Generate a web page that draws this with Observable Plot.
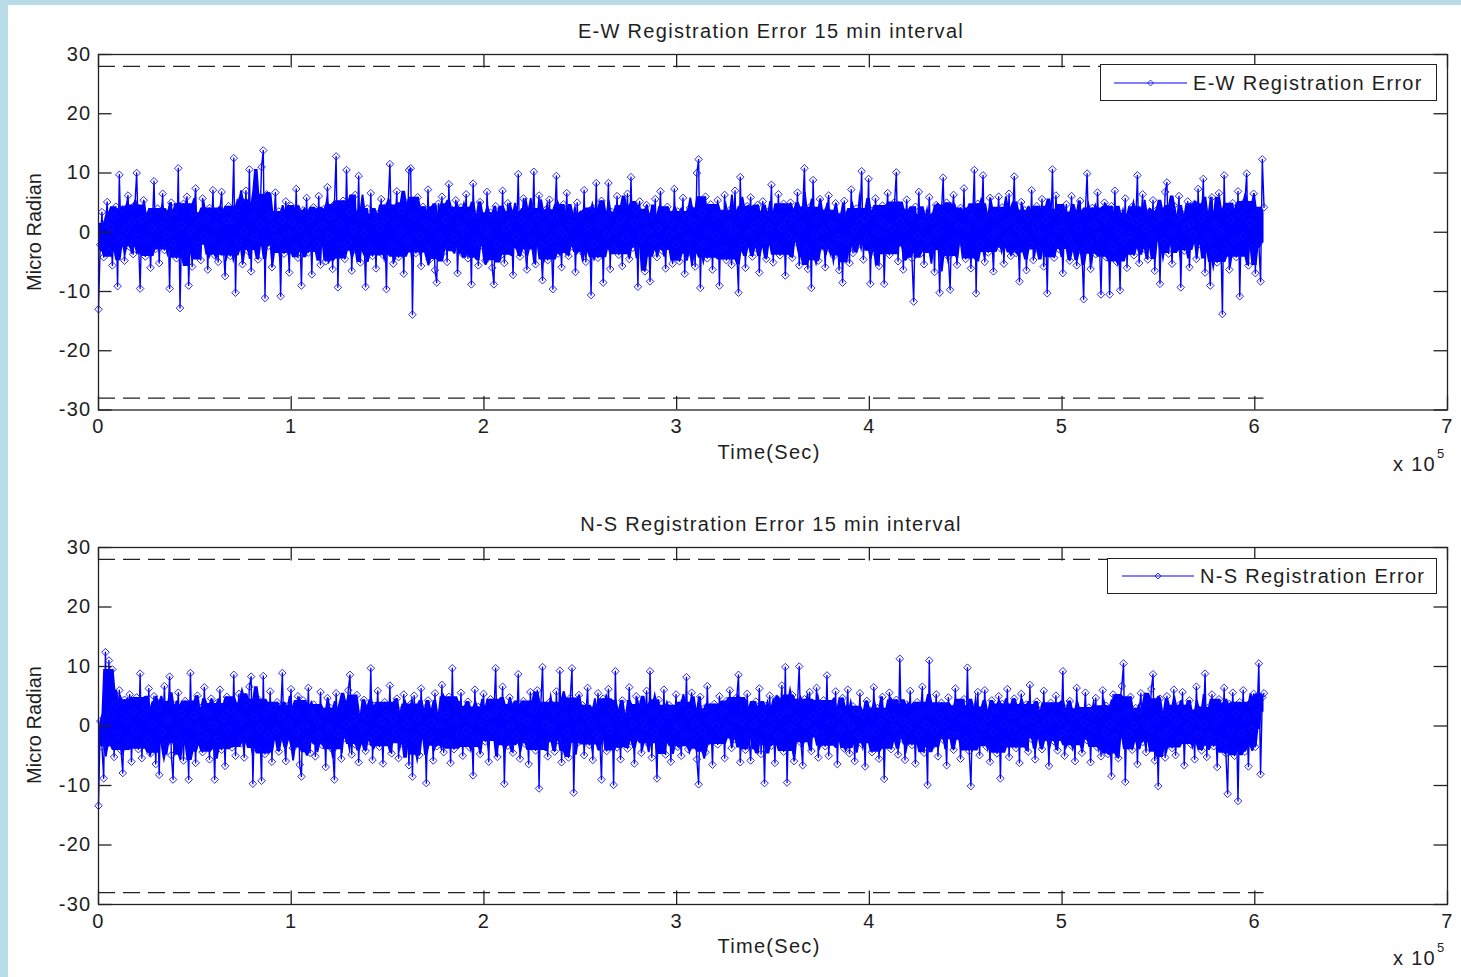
<!DOCTYPE html>
<html><head><meta charset="utf-8">
<script src="https://cdn.jsdelivr.net/npm/d3@7"></script>
<script src="https://cdn.jsdelivr.net/npm/@observablehq/plot@0.6"></script>
<style>
html,body{margin:0;padding:0;}
body{background:#b8dce7;width:1461px;height:977px;overflow:hidden;position:relative;font-family:'Liberation Sans',Arial,sans-serif;color:#1e1e1e;}
#sheet{position:absolute;left:8px;top:5px;right:0;bottom:0;background:#fff;}
.panel{position:absolute;left:0;width:1461px;}
.lbl{position:absolute;transform:translate(-50%,-50%);white-space:nowrap;font-size:20px;letter-spacing:1.3px;line-height:1;}
.lft{position:absolute;transform:translate(0,-50%);white-space:nowrap;font-size:20px;letter-spacing:1.3px;line-height:1;}
.ylab{position:absolute;transform:translate(-50%,-50%) rotate(-90deg);white-space:nowrap;font-size:20px;line-height:1;}
.legend{position:absolute;background:#fff;border:1.3px solid #222;box-sizing:border-box;}
.swatch{position:absolute;overflow:visible;}
</style></head><body>
<div id="sheet"></div>
<div id="root"></div>
<script>
// ---- data ----
const intervalSec = 900; // 15 min sampling
const limitValue = 28;   // dashed limit lines at +/-28
const xTicks = [0, 100000, 200000, 300000, 400000, 500000, 600000, 700000];
const xTickLabels = ["0", "1", "2", "3", "4", "5", "6", "7"];
const yTicks = [-30, -20, -10, 0, 10, 20, 30];
const yTickLabels = ["-30", "-20", "-10", "0", "10", "20", "30"];
const titles = ["E-W Registration Error 15 min interval", "N-S Registration Error 15 min interval"];
const seriesNames = ["E-W Registration Error", "N-S Registration Error"];
const xLabel = "Time(Sec)";
const yLabel = "Micro Radian";

const ewError = [
-13,-2.1,3.4,-4.2,1.5,5.1,-3.3,0.8,-5.6,2.7,4.3,-9.1,9.7,-1.2,3.9,-4.8,0.4,6.2,-2.5,1.8,
-3.7,4.6,10.0,-0.9,-9.5,2.2,5.4,-4.1,-1.6,3.1,-6.0,0.7,8.6,-2.8,4.0,-5.2,1.3,6.5,-3.0,-0.4,
2.9,-9.5,5.0,-1.9,3.6,-4.4,10.8,-12.8,1.1,4.8,-3.5,6.0,-9.0,0.3,-5.8,3.3,7.4,-2.2,1.6,-4.7,
5.7,-0.6,2.4,-6.3,4.1,-1.4,7.1,-3.9,0.9,-5.0,3.8,6.8,-2.6,-7.4,1.9,4.4,-4.0,2.0,12.5,-10.2,
3.2,-1.7,5.5,-5.4,0.2,7.0,-3.1,10.6,-6.6,2.5,-0.8,4.9,-4.6,1.4,11.0,13.8,-11.1,6.4,-2.3,3.0,
-5.9,1.0,6.7,-1.1,3.5,-10.8,2.1,-3.6,5.2,-0.3,-6.8,4.5,1.7,-2.9,7.3,-4.3,0.6,-9.0,3.7,-1.5,
5.8,-3.4,2.3,-7.1,4.2,0.1,-2.0,6.1,-5.5,1.2,3.9,-4.9,7.6,-0.7,2.6,-6.2,4.7,12.8,-9.3,1.5,
-2.4,5.3,-4.5,10.5,-1.8,3.4,-6.5,0.5,6.3,-3.2,9.5,-5.1,2.8,-0.2,-9.2,4.0,-2.7,6.6,-4.0,1.9,
-6.1,3.1,0.8,5.6,-3.8,2.2,-9.6,4.6,11.5,-2.1,-5.3,1.4,6.9,-4.2,0.0,3.6,-7.0,5.0,-1.3,10.5,
10.8,-13.9,2.7,-3.5,5.9,-0.5,-5.7,4.3,1.6,-2.8,7.2,-4.6,0.9,3.2,-6.4,-8.5,4.8,-1.0,6.0,-3.3,
2.0,-5.0,8.1,-2.5,3.7,-0.9,5.4,-6.9,1.3,4.2,-3.7,0.4,6.4,-4.4,2.9,-8.8,8.2,-1.6,3.0,-5.6,
5.1,-2.2,1.0,-4.8,6.8,-0.1,3.3,-6.0,-8.8,4.4,-1.9,2.5,-3.9,7.0,-5.2,0.7,4.9,-2.7,1.8,-7.2,
3.5,-0.8,9.8,-4.1,2.1,5.7,-3.0,-6.3,1.1,4.0,-1.4,10.2,-5.4,2.6,6.2,-2.3,-8.1,0.6,3.8,-4.7,
5.5,-1.2,-9.6,2.4,9.5,-3.6,0.3,-5.9,4.7,-0.6,6.6,-4.0,1.5,-2.4,3.2,-6.7,5.0,-1.7,2.8,-3.4,
7.1,-5.0,0.9,3.6,-10.6,4.1,-2.0,8.3,-4.3,1.2,5.3,-8.5,2.2,-0.4,8.3,-6.2,3.4,-2.9,0.5,6.1,
-3.8,2.0,-5.7,4.5,-1.0,6.5,-4.5,9.3,-2.6,1.7,3.9,-9.2,5.2,-0.9,2.3,-6.6,4.6,0.2,-8.3,3.0,
-1.5,5.6,-4.2,0.8,6.9,-3.1,2.7,-6.1,4.3,-0.3,1.9,-5.3,7.3,-2.1,3.5,-4.9,0.6,5.8,-7.0,2.4,
-1.1,4.1,-3.7,1.6,-5.8,10.0,12.3,-9.4,3.3,-2.0,6.0,-4.4,0.1,4.7,-6.3,2.6,-0.7,5.4,-9.0,3.1,
-2.8,6.3,-4.7,1.4,3.7,-5.5,0.4,7.0,-3.3,-10.2,9.3,-1.8,2.9,-6.0,4.4,-0.2,5.9,-4.1,1.1,-2.6,
4.6,-6.8,2.0,5.2,-1.3,-4.5,3.4,0.9,8.0,-5.1,2.5,-2.2,6.4,-3.9,0.7,4.8,-7.3,1.8,-0.6,5.0,
-4.3,2.6,-1.6,6.7,-5.6,1.0,3.9,10.8,-3.0,-6.2,4.2,-9.4,8.8,-0.5,2.2,-4.8,5.6,-2.4,0.3,-5.9,
3.7,6.2,-2.9,1.3,-4.0,4.9,-0.8,-6.4,2.8,-8.5,5.3,-1.5,3.1,-5.2,7.2,-3.5,0.5,4.0,-2.1,1.7,
10.3,-4.6,2.3,-1.0,9.0,-8.7,3.6,-3.2,5.7,-0.1,-5.7,2.0,4.5,-8.7,1.2,6.6,-3.8,0.8,-2.5,5.1,
10.1,-4.9,1.9,3.8,-6.3,0.6,5.5,-2.3,2.6,-4.4,-11.7,4.3,-0.7,6.8,-3.6,1.5,-5.4,3.0,-1.2,5.9,
-3.1,2.1,-6.7,4.6,0.2,-10.2,3.3,9.2,-2.8,5.0,-4.1,-9.7,2.7,6.3,-1.4,-5.5,1.0,4.1,-2.0,7.4,
-4.5,0.9,3.5,-6.1,2.4,10.5,-10.3,4.8,-1.9,1.3,9.6,-5.0,2.9,-3.4,5.8,-0.6,-6.6,3.2,0.4,6.0,
-2.7,4.2,-5.3,1.6,-1.1,6.5,-4.0,2.2,9.4,-3.5,0.7,-8.3,5.1,-0.4,3.7,-6.4,2.5,-2.2,7.1,-4.7,
1.1,4.4,-3.0,-0.2,5.6,-5.8,2.0,-10.3,3.9,-1.6,10.6,-4.3,6.2,0.5,-2.9,3.4,-6.9,1.4,4.7,-1.0,
-4.8,6.1,-2.4,2.8,-5.6,0.8,5.3,-3.3,-11.3,3.6,9.9,-1.7,-6.2,4.1,1.2,-3.7,6.7,-0.9,-10.5,2.6,
5.0,-4.2,1.8,-10.5,4.4,-2.5,7.0,-5.0,0.3,-9.8,3.1,-1.3,5.7,-6.0,2.3,-0.5,4.3,-3.9,1.7,9.6,
-5.2,2.0,6.4,-2.8,0.6,-4.6,3.5,-0.8,5.4,-6.5,1.9,4.0,-8.7,2.7,-1.5,6.8,8.4,-3.6,0.1,-5.3,
4.5,-1.9,2.4,6.1,-9.3,3.0,-3.1,0.9,5.2,-5.9,1.5,-0.3,4.8,-4.5,7.3,-2.0,2.2,9.0,-6.8,3.4,
-1.2,-9.0,5.9,-3.4,1.3,-5.1,6.6,0.0,-13.8,9.6,-2.6,3.9,-6.3,2.1,4.9,-1.4,-4.2,6.9,-10.8,2.9,
-0.6,5.2,9.9,-5.6,1.6,-2.7,6.5,-6.9,3.3,-1.8,-8.3,12.3,4.2
];

const nsError = [
-13.4,0.8,-3.5,-8.8,12.4,-3.0,11.0,2.0,9.5,-5.2,3.7,-1.4,6.0,-4.1,-7.9,4.4,1.2,-2.6,5.3,-6.0,
2.5,-0.7,4.8,-3.9,8.8,-5.4,1.6,3.2,-2.2,6.3,-4.6,0.4,5.0,-6.4,2.9,-8.2,4.1,-1.1,6.7,-3.0,
1.0,8.3,-4.9,-9.0,3.5,-0.9,5.6,-2.7,2.1,-5.8,4.2,0.6,-9.0,8.9,-3.3,1.8,-6.2,5.1,-0.4,3.0,
-4.4,6.5,-1.8,2.3,-5.6,4.6,0.2,-9.0,3.8,-2.1,6.1,-4.0,1.4,-6.7,4.9,-0.6,2.7,-3.6,8.6,-5.0,
2.0,5.4,-2.9,0.9,-5.3,3.9,-1.2,6.6,8.3,-9.7,1.5,-3.8,4.5,-0.3,-9.2,8.4,-4.7,2.6,-1.5,5.8,
-6.0,3.1,-0.8,4.0,-4.3,1.7,8.9,-2.4,-5.9,3.3,0.5,6.2,-3.7,2.2,-1.0,5.0,-6.5,-8.5,4.3,0.0,
-2.8,6.4,-4.5,1.9,3.6,-5.1,0.7,-1.6,5.7,-3.2,2.4,-6.9,4.7,-0.5,3.0,-4.0,-9.0,5.5,-1.3,2.8,
-5.5,4.1,-2.0,0.3,6.0,8.6,-4.8,1.1,-3.1,5.2,-6.1,2.0,-0.2,4.4,-4.2,1.6,-2.5,9.7,-5.7,3.4,
-1.0,5.9,-3.5,0.8,-6.3,4.0,2.1,-2.3,6.8,-4.6,1.3,-0.9,4.6,-5.4,2.5,-3.0,5.3,-1.7,0.4,-6.6,
3.7,-8.5,5.1,-2.2,1.4,-4.9,6.3,-0.6,2.9,-9.6,4.3,-1.9,0.6,-5.8,5.5,-3.4,2.2,-0.1,6.9,-4.4,
1.8,-2.7,4.9,-6.2,9.7,-3.9,0.9,3.3,-1.4,5.6,-5.0,2.6,-0.7,4.1,-3.6,1.0,-8.3,6.1,-2.1,3.2,
-4.7,0.5,5.4,-2.6,1.7,-6.0,4.5,-0.4,2.3,9.7,-5.2,3.1,-1.2,6.6,-9.7,2.0,-3.3,4.8,0.1,-4.5,
3.6,-1.6,8.7,-5.5,1.2,4.2,-3.0,0.8,-6.4,5.7,-1.9,2.7,-4.1,6.0,-10.5,3.4,9.9,-2.8,0.2,-5.1,
4.0,-0.3,2.5,-4.3,5.8,-2.4,9.3,-6.1,1.5,3.9,-1.1,-5.3,4.7,9.7,-11.2,2.1,-2.9,5.2,-0.6,3.5,
-4.9,1.9,6.4,-3.2,0.6,-5.7,3.0,-1.5,5.5,-2.0,-9.0,4.6,0.9,-4.2,6.2,-0.8,2.8,-9.9,9.2,-3.6,
1.4,-5.6,4.3,-0.9,2.0,-3.8,6.5,-2.5,0.3,-6.3,5.0,-1.7,3.6,-4.5,1.0,-0.2,5.9,-3.0,9.2,-5.3,
2.4,-1.0,-8.8,4.4,0.7,-2.9,6.1,-4.8,1.8,3.5,-6.0,2.6,-0.5,5.3,-3.5,0.1,-5.0,4.0,-1.4,8.2,
-3.9,2.2,5.6,-1.9,0.5,-5.6,-9.8,4.9,-0.7,2.9,-4.4,6.7,-2.6,1.1,-6.5,3.7,0.0,-3.1,5.0,-1.3,
2.6,-5.4,4.2,-0.4,6.0,-3.7,1.3,-2.2,4.8,8.6,-6.1,0.8,3.2,-4.0,5.4,-1.8,-5.8,2.3,0.3,4.1,
-2.3,6.3,-4.7,1.6,-9.6,3.4,-0.6,5.1,-3.3,0.9,-6.2,4.6,-1.6,2.0,6.8,-4.3,9.9,-9.5,2.7,-0.2,
5.2,-5.9,1.1,3.8,10.0,-2.8,-6.6,4.5,0.4,-2.0,5.7,-4.2,1.7,-0.9,6.4,-5.3,2.9,-1.6,4.3,-3.4,
8.5,-5.0,0.6,3.1,-2.5,5.8,-6.4,2.2,-0.5,4.7,-3.8,1.2,6.1,-4.6,0.0,3.3,-5.9,2.5,-1.5,5.5,
-3.0,1.9,-6.8,4.2,-0.8,2.6,-4.4,6.5,-1.0,3.0,-5.5,0.7,4.9,-8.9,2.0,-2.7,5.6,-3.9,1.4,-0.3,
4.4,-4.8,11.3,-2.1,0.9,-5.7,3.6,-0.4,5.9,-3.2,1.5,-6.3,4.0,-1.2,2.4,6.6,-4.5,0.2,-9.9,11.0,
-3.6,2.8,-0.7,5.3,-5.1,1.6,3.9,-2.3,0.4,-6.6,4.8,-1.4,2.1,-4.0,6.3,-0.9,3.4,-5.5,1.0,4.5,
-2.4,9.8,-4.2,-10.1,3.2,0.6,-1.8,5.7,-4.9,2.5,-0.1,6.0,-3.5,1.3,-6.0,4.3,-1.1,2.7,-4.6,5.0,
-8.8,3.7,0.3,-2.9,6.2,-5.2,1.8,-0.6,4.6,-3.7,2.3,-6.2,5.4,-1.5,0.9,3.6,-4.3,6.9,-2.2,1.2,
-5.6,4.1,-0.3,2.6,-3.9,5.9,-1.9,0.5,-6.7,3.9,1.4,-2.6,5.1,-4.1,0.8,-1.2,9.2,-5.0,2.9,-0.8,
4.2,-3.3,1.7,-5.9,6.4,-1.6,2.4,-4.5,0.6,5.6,-2.4,3.1,-6.1,1.9,-0.4,4.7,-3.6,2.2,-5.1,6.0,
-1.0,3.4,-4.7,0.4,-8.4,5.3,-2.0,1.5,-5.4,4.4,6.7,10.5,-9.4,2.3,-1.3,4.9,-4.0,0.1,3.0,-6.4,
2.6,5.5,-2.7,0.7,-4.4,3.8,-0.5,6.2,8.7,-5.8,1.1,-10.1,4.6,-1.7,2.4,-5.3,5.0,-0.9,1.9,-3.7,
6.1,-4.9,0.8,3.5,-2.3,5.7,-6.6,2.0,-0.2,4.3,-3.1,1.3,-5.6,6.6,-1.4,2.7,-4.1,0.4,8.8,-5.2,
3.1,-1.9,5.3,-3.4,0.5,-6.9,4.5,1.6,-2.8,6.4,-4.6,-11.4,3.7,-0.7,5.6,-5.0,2.1,-12.6,4.0,-1.2,
6.0,-4.3,1.4,-6.8,3.9,-0.6,5.4,-3.5,2.3,10.5,-8.1,4.8,5.5
];

// ---- layout ----
const W = 1461;
const frameLeft = 98, frameRight = 1447;
const tickLen = 13.5;
const panels = [
  {top: 0,   height: 490, frameTop: 54, frameBottom: 409.5, values: ewError},
  {top: 490, height: 487, frameTop: 57, frameBottom: 414,   values: nsError}
];
const root = document.getElementById("root");
const xFmt = d => xTickLabels[xTicks.indexOf(d)];
const yFmt = d => yTickLabels[yTicks.indexOf(d)];

// dense over-plotted core of the trace: 3rd-lowest / 3rd-highest sample
// in a centred 11-sample window (mimics the solid band made by heavy overplotting)
function coreBand(values) {
  return values.map((v, i) => {
    const w = values.slice(Math.max(0, i - 5), i + 6).sort(d3.ascending);
    return {t: i * intervalSec, lo: w[2], hi: w[w.length - 3]};
  });
}

panels.forEach((p, k) => {
  const data = p.values.map((v, i) => ({t: i * intervalSec, v}));
  const band = coreBand(p.values);
  const tEnd = (p.values.length - 1) * intervalSec;
  const plotH = p.frameBottom - p.frameTop;
  const plotW = frameRight - frameLeft;
  const ink = "#222";
  const chart = Plot.plot({
    width: W,
    height: p.height,
    marginLeft: frameLeft,
    marginRight: W - frameRight,
    marginTop: p.frameTop,
    marginBottom: p.height - p.frameBottom,
    x: {domain: [0, 700000]},
    y: {domain: [-30, 30]},
    style: {background: "transparent", fontFamily: "'Liberation Sans', Arial, sans-serif", fontSize: "20px", letterSpacing: "1.3px", color: "#1e1e1e", overflow: "visible"},
    marks: [
      Plot.ruleY([-limitValue, limitValue], {y: d => d, x1: 0, x2: tEnd, stroke: ink, strokeWidth: 1.3, strokeDasharray: "17,8"}),
      Plot.areaY(band, {x: "t", y1: "lo", y2: "hi", fill: "#0000ff"}),
      Plot.line(data, {x: "t", y: "v", stroke: "#0000ff", strokeWidth: 1.4}),
      Plot.dot(data, {x: "t", y: "v", symbol: "diamond2", r: 3.4, stroke: "#1010ff", strokeWidth: 0.9, fill: "none"}),
      Plot.tickX(xTicks, {x: d => d, insetTop: plotH - tickLen, stroke: ink, strokeWidth: 1.3}),
      Plot.tickX(xTicks, {x: d => d, insetBottom: plotH - tickLen, stroke: ink, strokeWidth: 1.3}),
      Plot.tickY(yTicks, {y: d => d, insetRight: plotW - tickLen, stroke: ink, strokeWidth: 1.3}),
      Plot.tickY(yTicks, {y: d => d, insetLeft: plotW - tickLen, stroke: ink, strokeWidth: 1.3}),
      Plot.frame({stroke: ink, strokeWidth: 1.3}),
      Plot.axisX(xTicks, {tickSize: 0, tickPadding: 9, tickFormat: xFmt, label: null, fill: "#1e1e1e"}),
      Plot.axisY(yTicks, {tickSize: 0, tickPadding: 7, tickFormat: yFmt, label: null, fill: "#1e1e1e"})
    ]
  });
  const holder = document.createElement("div");
  holder.className = "panel";
  holder.style.top = p.top + "px";
  holder.style.height = p.height + "px";
  holder.appendChild(chart);
  root.appendChild(holder);
});

function addText(cls, text, x, y, extra) {
  const d = document.createElement("div");
  d.className = cls;
  d.textContent = text;
  d.style.left = x + "px";
  d.style.top = y + "px";
  if (extra) Object.assign(d.style, extra);
  root.appendChild(d);
  return d;
}

// titles, axis labels, exponent
const textPos = [
  {titleY: 31, xlabY: 452, ylabY: 232, expY: 463.5, supY: 452.5},
  {titleY: 524, xlabY: 946, ylabY: 725, expY: 957.5, supY: 947}
];
textPos.forEach((t, k) => {
  addText("lbl", titles[k], 771, t.titleY);
  addText("lbl", xLabel, 769, t.xlabY);
  addText("ylab", yLabel, 34, t.ylabY);
  addText("lft", "x 10", 1393, t.expY);
  addText("lft", "5", 1437, t.supY, {fontSize: "13px", letterSpacing: "0"});
});

// legends
const legendPos = [
  {left: 1100, top: 64.4, width: 336.5, height: 36.6, lineX1: 1114, lineX2: 1187, lineY: 83, textX: 1193},
  {left: 1107, top: 557.7, width: 329.5, height: 36.6, lineX1: 1122, lineX2: 1194, lineY: 575.5, textX: 1200}
];
legendPos.forEach((g, k) => {
  const box = document.createElement("div");
  box.className = "legend";
  Object.assign(box.style, {left: g.left + "px", top: g.top + "px", width: g.width + "px", height: g.height + "px"});
  root.appendChild(box);
  const ns = "http://www.w3.org/2000/svg";
  const svg = document.createElementNS(ns, "svg");
  svg.setAttribute("class", "swatch");
  svg.setAttribute("width", g.lineX2 - g.lineX1 + 8);
  svg.setAttribute("height", 12);
  svg.style.left = (g.lineX1 - 4) + "px";
  svg.style.top = (g.lineY - 6) + "px";
  const ln = document.createElementNS(ns, "line");
  ln.setAttribute("x1", 4); ln.setAttribute("x2", g.lineX2 - g.lineX1 + 4);
  ln.setAttribute("y1", 6); ln.setAttribute("y2", 6);
  ln.setAttribute("stroke", "#0000ff"); ln.setAttribute("stroke-width", 1);
  svg.appendChild(ln);
  const cx = (g.lineX2 - g.lineX1) / 2 + 4;
  const dm = document.createElementNS(ns, "path");
  dm.setAttribute("d", `M${cx},3L${cx + 3},6L${cx},9L${cx - 3},6Z`);
  dm.setAttribute("fill", "none"); dm.setAttribute("stroke", "#1a1aff"); dm.setAttribute("stroke-width", 0.9);
  svg.appendChild(dm);
  root.appendChild(svg);
  addText("lft", seriesNames[k], g.textX, g.lineY);
});
</script></body></html>
